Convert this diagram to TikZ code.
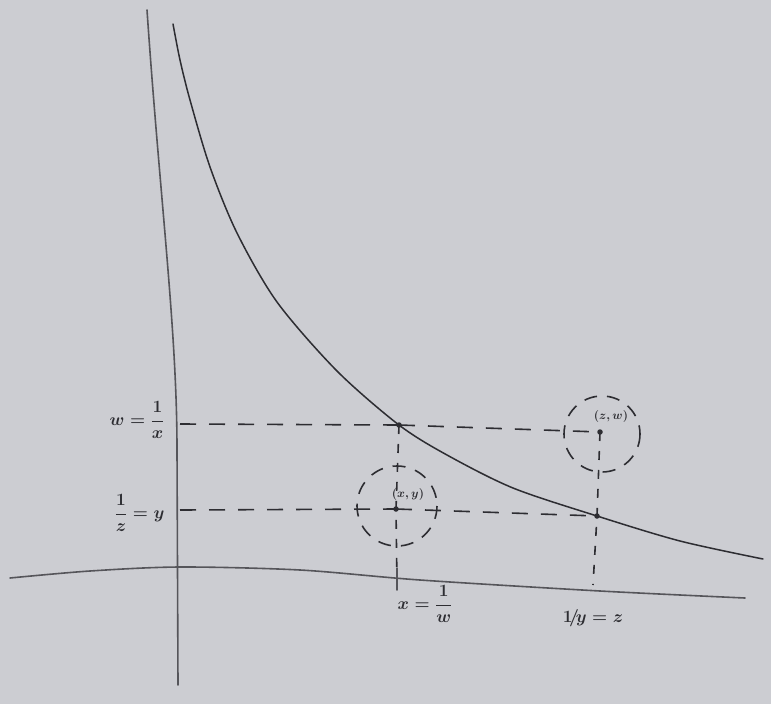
\documentclass[tikz,border=0pt]{standalone}
\usepackage{amsmath}
\definecolor{board}{RGB}{204,205,210}
\definecolor{ink}{RGB}{45,45,50}
\definecolor{axisink}{RGB}{85,85,90}
\begin{document}
\begin{tikzpicture}[x=1pt,y=-1pt,
  axisline/.style={axisink,line width=1.6pt,line cap=round},
  curveline/.style={ink,line width=1.5pt,line cap=round},
  dashline/.style={ink,line width=1.6pt,dash pattern=on 16pt off 13pt},
  vdash/.style={ink,line width=1.6pt,dash pattern=on 9pt off 10pt},
  ring/.style={ink,line width=1.6pt,dash pattern=on 13pt off 10pt},
  dotmark/.style={circle,fill=ink,inner sep=0pt,minimum size=5.5pt},
  lab/.style={ink,font=\fontsize{19}{22}\selectfont\boldmath},
  smalllab/.style={ink,font=\fontsize{13}{15}\selectfont\boldmath}]
\fill[board] (0,0) rectangle (771,704);
\useasboundingbox (0,0) rectangle (771,704);
% axes
\draw[axisline] (147,10) .. controls (160,200) and (177,330) .. (177,450) -- (178,685);
\draw[axisline] plot[smooth] coordinates {(10,578) (90,571) (180,567) (300,570) (420,580) (600,591) (745,598)};
% key points
\coordinate (A) at (399,425);
\coordinate (B) at (597,516);
\coordinate (XY) at (396,509);
\coordinate (ZW) at (600,432);
\coordinate (wt) at (180,424);
\coordinate (yt) at (180,510);
\coordinate (xf) at (397,585);
\coordinate (zf) at (593,585);
% hyperbola
\draw[curveline] plot[smooth] coordinates {(173,24) (180,60) (190,100) (210,167) (237,233) (277,302) (337,371) (399,425) (447,455) (513,488) (597,516) (680,541) (763,559)};
% dashed guides
\draw[dashline] (wt) -- (A);
\draw[dashline] (A) -- (ZW);
\draw[dashline] (yt) -- (XY);
\draw[dashline] (XY) -- (B);
\draw[vdash] (A) -- (XY) -- (xf);
\draw[vdash] (ZW) -- (B) -- (zf);
\draw[axisline] (397,568) -- (397,590);
% dashed rings
\draw[ring] (397,506) circle (40);
\draw[ring] (602,434) circle (38);
% dots
\node[dotmark] (dA) at (A) {};
\node[dotmark] (dB) at (B) {};
\node[dotmark] (dXY) at (XY) {};
\node[dotmark] (dZW) at (ZW) {};
% labels
\node[smalllab] (lxy) at (408,494) {$(x,y)$};
\node[smalllab] (lzw) at (611,416) {$(z,w)$};
\node[lab,anchor=east] (lw) at (168,420) {$w=\dfrac{1}{x}$};
\node[lab,anchor=east] (ly) at (168,513) {$\dfrac{1}{z}=y$};
\node[lab] (lx) at (425,604) {$x=\dfrac{1}{w}$};
\node[lab] (lz) at (593,618) {$1\!/\!y=z$};
\end{tikzpicture}
\end{document}
